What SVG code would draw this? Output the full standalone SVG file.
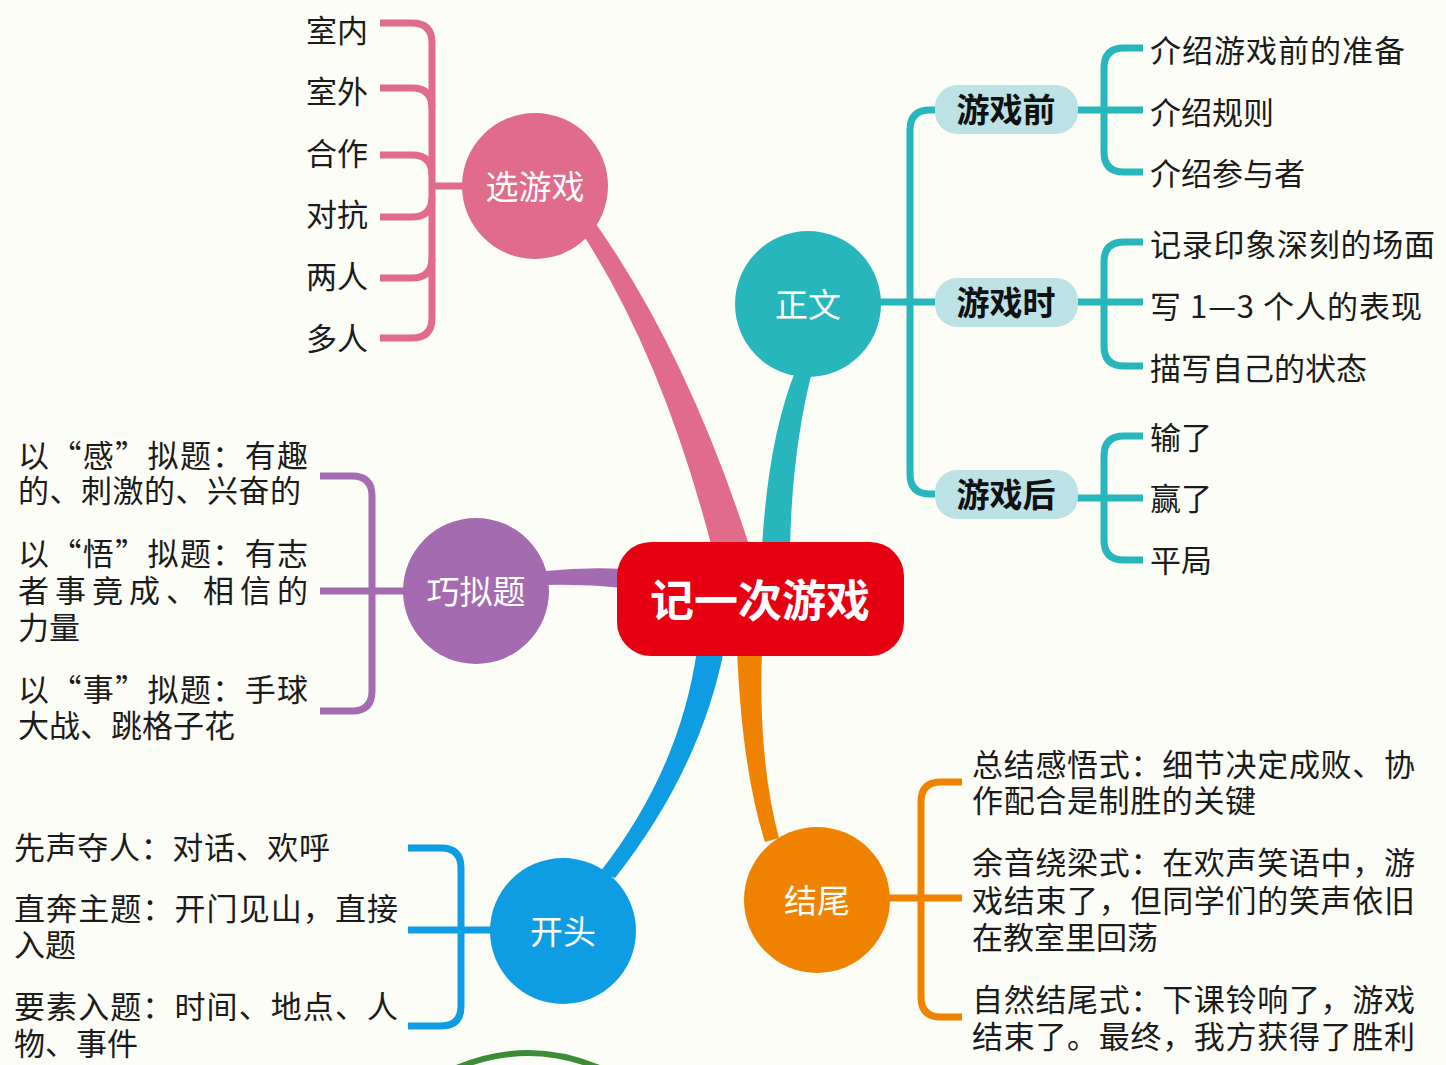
<svg xmlns="http://www.w3.org/2000/svg" width="1446" height="1065" viewBox="0 0 1446 1065">
<style>
text{font-family:"Noto Sans CJK SC","Noto Sans",sans-serif;dominant-baseline:central}
.leaf{font-size:31px;fill:#1b1b1b}
.end{text-anchor:end}
.mid{text-anchor:middle}
.ctext{font-size:33px;fill:#ffffff}
.btext{font-size:33px;fill:#111;font-weight:bold}
.br{fill:none;stroke-width:7;stroke-linecap:butt}
.pink{stroke:#E06B8B}.teal{stroke:#27B6BC}.purple{stroke:#A56BB0}.blue{stroke:#0E9DE3}.orange{stroke:#EF8300}
</style>
<rect width="1446" height="1065" fill="#FDFDF7"/>
<g id="connectors">
  <path d="M580,230 Q662,355 712,548 L750,548 Q688,355 596,224 Z" fill="#E06B8B"/>
  <path d="M795,372 Q768,440 762,548 L790,548 Q792,450 812,372 Z" fill="#27B6BC"/>
  <path d="M546,571 Q585,567 624,569 L624,588 Q585,584 546,585 Z" fill="#A56BB0"/>
  <path d="M697,650 Q680,770 600,872 L615,878 Q700,770 724,650 Z" fill="#0E9DE3"/>
  <path d="M737,650 Q742,770 765,842 L779,838 Q758,760 762,650 Z" fill="#EF8300"/>
  <g class="br pink">
    <path d="M380,23 H412 Q432,23 432,43 V318 Q432,338 412,338 H380"/>
    <path d="M380,88 H412 Q432,88 432,108"/>
    <path d="M380,155 H412 Q432,155 432,175"/>
    <path d="M380,217 H412 Q432,217 432,197"/>
    <path d="M380,278 H412 Q432,278 432,258"/>
    <path d="M432,186 H466"/>
  </g>
  <g class="br teal">
    <path d="M940,110 H930 Q910,110 910,130 V474 Q910,494 930,494 H940"/>
    <path d="M878,302 H940"/>
    <path d="M1143,48 H1124 Q1104,48 1104,68 V152 Q1104,172 1124,172 H1143"/>
    <path d="M1074,110 H1143"/>
    <path d="M1143,242 H1124 Q1104,242 1104,262 V346 Q1104,366 1124,366 H1143"/>
    <path d="M1074,302 H1143"/>
    <path d="M1143,436 H1124 Q1104,436 1104,456 V540 Q1104,560 1124,560 H1143"/>
    <path d="M1074,498 H1143"/>
  </g>
  <g class="br purple">
    <path d="M320,476 H352 Q372,476 372,496 V691 Q372,711 352,711 H320"/>
    <path d="M320,591 H406"/>
  </g>
  <g class="br blue">
    <path d="M408,848 H441 Q461,848 461,868 V1006 Q461,1026 441,1026 H408"/>
    <path d="M408,930 H493"/>
  </g>
  <g class="br orange">
    <path d="M962,782 H941 Q921,782 921,802 V997 Q921,1017 941,1017 H962"/>
    <path d="M887,898 H962"/>
  </g>
  <path d="M452,1070 Q528,1036 604,1070" fill="none" stroke="#3C8C36" stroke-width="6"/>
</g>

<g id="root">
  <rect x="617" y="542" width="287" height="114" rx="34" fill="#E60012"/>
  <text x="760" y="598" class="mid" style="font-size:44px;fill:#fff;font-weight:bold">记一次游戏</text>
</g>

<g id="node-xuanyouxi">
  <circle cx="535" cy="186" r="73" fill="#E06B8B"/>
  <text x="535" y="185" class="ctext mid">选游戏</text>
</g>
<g id="leaves-xuanyouxi">
  <text x="368" y="28" class="leaf end">室内</text>
  <text x="368" y="89" class="leaf end">室外</text>
  <text x="368" y="151" class="leaf end">合作</text>
  <text x="368" y="212" class="leaf end">对抗</text>
  <text x="368" y="274" class="leaf end">两人</text>
  <text x="368" y="336" class="leaf end">多人</text>
</g>

<g id="node-zhengwen">
  <circle cx="808" cy="304" r="73" fill="#27B6BC"/>
  <text x="808" y="303" class="ctext mid">正文</text>
</g>
<g id="node-youxiqian">
  <rect x="935" y="85" width="143" height="49" rx="22" fill="#BDE2E6"/>
  <text x="1006" y="108" class="btext mid">游戏前</text>
</g>
<g id="node-youxishi">
  <rect x="935" y="278" width="143" height="49" rx="22" fill="#BDE2E6"/>
  <text x="1006" y="301" class="btext mid">游戏时</text>
</g>
<g id="node-youxihou">
  <rect x="935" y="470" width="143" height="49" rx="22" fill="#BDE2E6"/>
  <text x="1006" y="493" class="btext mid">游戏后</text>
</g>
<g id="leaves-zhengwen">
  <text x="1150" y="48" class="leaf" textLength="255" lengthAdjust="spacing">介绍游戏前的准备</text>
  <text x="1150" y="110" class="leaf">介绍规则</text>
  <text x="1150" y="171" class="leaf">介绍参与者</text>
  <text x="1150" y="242" class="leaf" textLength="285" lengthAdjust="spacing">记录印象深刻的场面</text>
  <text x="1150" y="304" class="leaf" textLength="272" lengthAdjust="spacing">写 1—3 个人的表现</text>
  <text x="1150" y="366" class="leaf">描写自己的状态</text>
  <text x="1150" y="435" class="leaf">输了</text>
  <text x="1150" y="496" class="leaf">赢了</text>
  <text x="1150" y="558" class="leaf">平局</text>
</g>

<g id="node-qiaoniti">
  <circle cx="476" cy="591" r="73" fill="#A56BB0"/>
  <text x="476" y="590" class="ctext mid">巧拟题</text>
</g>
<g id="leaves-qiaoniti">
  <text x="18" y="453" class="leaf" textLength="290" lengthAdjust="spacing">以“感”拟题：有趣</text>
  <text x="18" y="488" class="leaf" textLength="283" lengthAdjust="spacing">的、刺激的、兴奋的</text>
  <text x="18" y="551" class="leaf" textLength="290" lengthAdjust="spacing">以“悟”拟题：有志</text>
  <text x="18" y="588" class="leaf" textLength="290" lengthAdjust="spacing">者事竟成、相信的</text>
  <text x="18" y="625" class="leaf">力量</text>
  <text x="18" y="687" class="leaf" textLength="290" lengthAdjust="spacing">以“事”拟题：手球</text>
  <text x="18" y="723" class="leaf">大战、跳格子花</text>
</g>

<g id="node-kaitou">
  <circle cx="563" cy="931" r="73" fill="#0E9DE3"/>
  <text x="563" y="930" class="ctext mid">开头</text>
</g>
<g id="leaves-kaitou">
  <text x="14" y="845" class="leaf" textLength="316" lengthAdjust="spacing">先声夺人：对话、欢呼</text>
  <text x="14" y="906" class="leaf" textLength="384" lengthAdjust="spacing">直奔主题：开门见山，直接</text>
  <text x="14" y="942" class="leaf">入题</text>
  <text x="14" y="1004" class="leaf" textLength="384" lengthAdjust="spacing">要素入题：时间、地点、人</text>
  <text x="14" y="1041" class="leaf">物、事件</text>
</g>

<g id="node-jiewei">
  <circle cx="817" cy="900" r="73" fill="#EF8300"/>
  <text x="817" y="899" class="ctext mid">结尾</text>
</g>
<g id="leaves-jiewei">
  <text x="972" y="762" class="leaf" textLength="443" lengthAdjust="spacing">总结感悟式：细节决定成败、协</text>
  <text x="972" y="798" class="leaf" textLength="284" lengthAdjust="spacing">作配合是制胜的关键</text>
  <text x="972" y="860" class="leaf" textLength="443" lengthAdjust="spacing">余音绕梁式：在欢声笑语中，游</text>
  <text x="972" y="898" class="leaf" textLength="443" lengthAdjust="spacing">戏结束了，但同学们的笑声依旧</text>
  <text x="972" y="935" class="leaf">在教室里回荡</text>
  <text x="972" y="997" class="leaf" textLength="443" lengthAdjust="spacing">自然结尾式：下课铃响了，游戏</text>
  <text x="972" y="1034" class="leaf" textLength="443" lengthAdjust="spacing">结束了。最终，我方获得了胜利</text>
</g>
</svg>
